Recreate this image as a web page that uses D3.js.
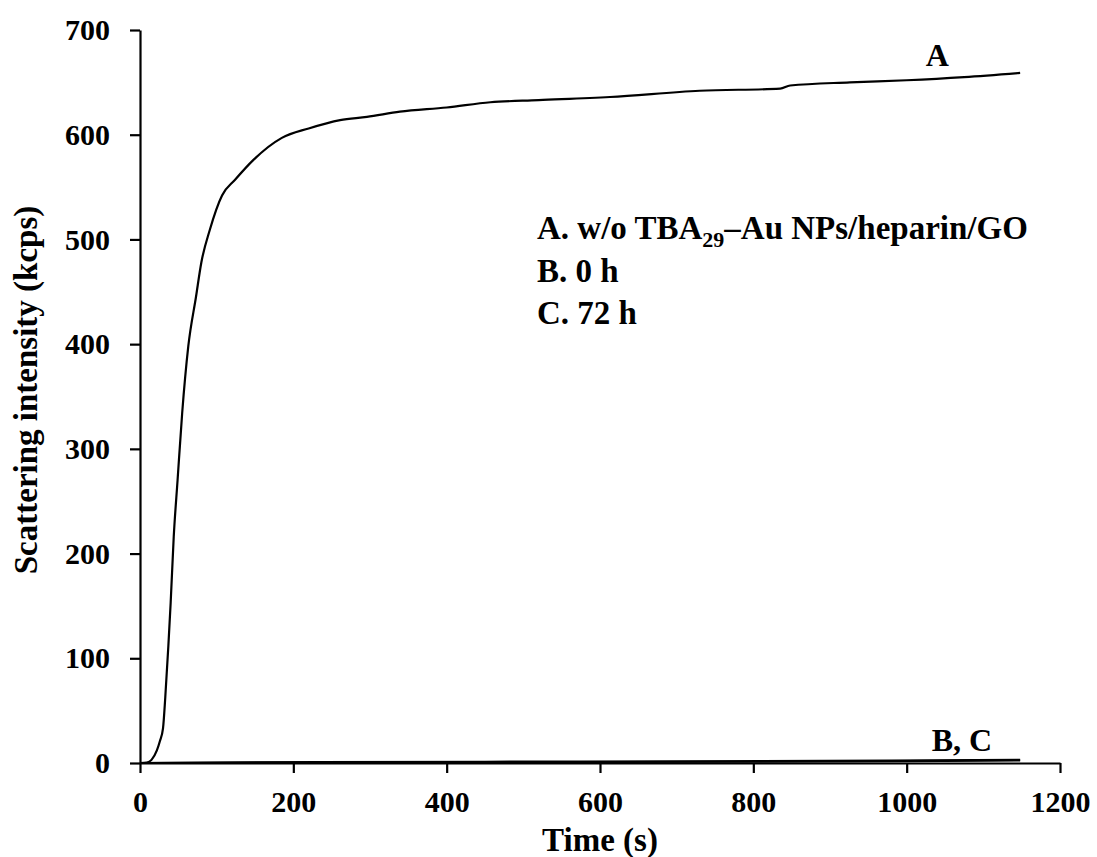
<!DOCTYPE html>
<html>
<head>
<meta charset="utf-8">
<script src="https://cdn.jsdelivr.net/npm/d3@7"></script>
<style>
  body { margin: 0; background: #fff; }
  svg text { font-family: "Liberation Serif", "Times New Roman", serif; font-weight: bold; fill: #000; }
</style>
</head>
<body>
<div id="chart"></div>
<script>
// curve A
const timeA = [0, 9, 15, 22, 26, 30, 33, 37, 40, 44, 49, 55, 63, 73, 80, 91, 107, 124, 148, 185, 220, 261, 296, 339, 400, 457, 520, 613, 730, 835, 848, 926, 1000, 1075, 1148];
const intA = [0, 0.5, 3, 12, 21, 33, 63, 112, 153, 216, 270, 334, 398, 445, 478, 509, 542, 557, 576, 597, 606, 614, 617, 622, 626, 631, 633, 636, 642, 644, 647, 650, 652, 655, 659];
// curves B and C hug the axis
const timeB = [0, 230, 450, 700, 980, 1148];
const intB = [0, 0.8, 1.2, 1.5, 2.2, 3];
const timeC = [0, 460, 800, 1000, 1148];
const intC = [0, 0.8, 1.2, 1.8, 2.5];

const xTicks = [0, 200, 400, 600, 800, 1000, 1200];
const yTicks = [0, 100, 200, 300, 400, 500, 600, 700];

const margin = { top: 30, left: 140, right: 37, bottom: 94 };
const W = 1097, H = 857;
const width = W - margin.left - margin.right;
const height = H - margin.top - margin.bottom;

const svg = d3.select("#chart").append("svg")
  .attr("width", W).attr("height", H);

const g = svg.append("g")
  .attr("transform", `translate(${margin.left},${margin.top})`);

const x = d3.scaleLinear().domain([0, 1200]).range([0, width]);
const y = d3.scaleLinear().domain([0, 700]).range([height, 0]);

const xAxis = g.append("g")
  .attr("transform", `translate(0,${height})`)
  .call(d3.axisBottom(x).tickValues(xTicks).tickFormat(d3.format("d"))
    .tickSizeInner(10).tickSizeOuter(0).tickPadding(18));
const yAxis = g.append("g")
  .call(d3.axisLeft(y).tickValues(yTicks).tickFormat(d3.format("d"))
    .tickSizeInner(10).tickSizeOuter(0).tickPadding(20));

[xAxis, yAxis].forEach(a => {
  a.selectAll("path, line").attr("stroke", "#000").attr("stroke-width", 2.2);
  a.selectAll("text").style("font-size", "30px").style("font-family", "Liberation Serif").style("font-weight", "bold").attr("fill", "#000");
});

const line = d3.line().curve(d3.curveMonotoneX)
  .x(d => x(d[0])).y(d => y(d[1]));

const series = [
  d3.zip(timeC, intC),
  d3.zip(timeB, intB),
  d3.zip(timeA, intA)
];
g.selectAll(".series").data(series).join("path")
  .attr("class", "series")
  .attr("d", line)
  .attr("fill", "none")
  .attr("stroke", "#000")
  .attr("stroke-width", 2.2);

// curve labels
g.append("text").attr("x", x(1040)).attr("y", y(663) - 3)
  .attr("text-anchor", "middle").style("font-size", "32px").text("A");
g.append("text").attr("x", x(1072)).attr("y", y(0) - 12)
  .attr("text-anchor", "middle").style("font-size", "32px").text("B, C");

// legend text
const leg = g.append("g").attr("transform", `translate(397,209)`);
const t1 = leg.append("text").attr("x", 0).attr("y", 0).style("font-size", "33px");
t1.append("tspan").text("A. w/o TBA");
t1.append("tspan").attr("dy", 8).style("font-size", "22px").text("29");
t1.append("tspan").attr("dy", -8).text("\u2013Au NPs/heparin/GO");
leg.append("text").attr("x", 0).attr("y", 43).style("font-size", "33px").text("B. 0 h");
leg.append("text").attr("x", 0).attr("y", 85).style("font-size", "33px").text("C. 72 h");

// axis titles
svg.append("text").attr("x", margin.left + x(600)).attr("y", 851)
  .attr("text-anchor", "middle").style("font-size", "33px").text("Time (s)");
svg.append("text")
  .attr("transform", `translate(37,390) rotate(-90)`)
  .attr("text-anchor", "middle").style("font-size", "33px").text("Scattering intensity (kcps)");
</script>
</body>
</html>
